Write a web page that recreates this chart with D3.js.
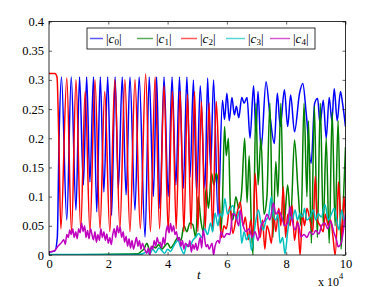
<!DOCTYPE html>
<html>
<head>
<meta charset="utf-8">
<script src="https://d3js.org/d3.v7.min.js"></script>
<style>
  body { margin: 0; background: #fff; }
  text { font-family: "Liberation Serif", "Times New Roman", serif; fill: #000; }
</style>
</head>
<body>
<svg width="382" height="287"></svg>
<script>
// time in units of 1e4
var c0 = [[0,0.005],[0.2,0.007],[0.28,0.03],[0.34,0.2],[0.42,0.305],
  [0.6,0.06],[0.75,0.305],[0.91,0.077],[1.03,0.305],[1.16,0.12],[1.27,0.305],[1.38,0.125],[1.5,0.305],
  [1.61,0.074],[1.73,0.305],[1.85,0.108],[1.98,0.305],[2.11,0.068],[2.23,0.305],[2.34,0.114],[2.47,0.305],
  [2.6,0.103],[2.73,0.305],[2.9,0.077],[3.04,0.305],[3.24,0.031],[3.38,0.305],[3.52,0.1],[3.63,0.305],
  [3.74,0.08],[3.88,0.305],[4.02,0.1],[4.15,0.305],[4.28,0.12],[4.4,0.305],[4.53,0.114],[4.65,0.305],
  [4.76,0.134],[4.87,0.3],[4.98,0.106],[5.1,0.29],[5.26,0.114],[5.35,0.303],[5.45,0.146],[5.55,0.3],[5.7,0.066],
  [5.85,0.265],[5.92,0.232],[6.0,0.277],[6.08,0.23],[6.17,0.27],[6.25,0.24],[6.32,0.255],[6.4,0.235],
  [6.5,0.27],[6.58,0.26],[6.68,0.27],[6.78,0.2],[6.9,0.29],[6.98,0.21],[7.05,0.28],[7.15,0.18],[7.32,0.297],
  [7.45,0.24],[7.6,0.191],[7.7,0.277],[7.8,0.22],[7.94,0.283],[8.05,0.22],[8.15,0.274],[8.28,0.211],
  [8.45,0.277],[8.56,0.294],[8.68,0.24],[8.84,0.157],[8.96,0.26],[9.06,0.268],[9.14,0.225],[9.25,0.265],
  [9.35,0.2],[9.45,0.27],[9.54,0.23],[9.62,0.285],[9.72,0.23],[9.83,0.28],[9.9,0.26],[10,0.22]];

var c1 = [[0,0],[3.0,0.002],[3.1,0.006],[3.2,0.01],[3.3,0.02],[3.4,0.008],[3.5,0.015],[3.6,0.012],
  [3.7,0.018],[3.8,0.01],[3.9,0.015],[4.0,0.02],[4.1,0.012],[4.2,0.018],[4.35,0.03],[4.45,0.025],
  [4.55,0.05],[4.65,0.04],[4.75,0.055],[4.85,0.052],[4.95,0.03],[5.03,0.1],[5.12,0.06],[5.2,0.04],
  [5.3,0.115],[5.38,0.08],[5.48,0.14],[5.56,0.12],[5.64,0.14],[5.72,0.12],[5.8,0.04],[5.85,0.09],
  [5.92,0.22],[5.98,0.17],[6.05,0.2],[6.12,0.08],[6.2,0.06],[6.3,0.1],[6.4,0.08],[6.5,0.11],[6.6,0.2],
  [6.68,0.09],[6.75,0.17],[6.82,0.06],[6.88,0],[6.98,0.26],[7.05,0.12],[7.15,0.2],[7.25,0.07],[7.35,0.1],
  [7.45,0.26],[7.55,0.03],[7.65,0.16],[7.72,0.1],[7.82,0.26],[7.92,0.05],[8.05,0.12],[8.15,0.06],
  [8.28,0.197],[8.4,0.11],[8.5,0.05],[8.6,0.26],[8.7,0.1],[8.75,0.23],[8.85,0.02],[8.95,0.255],[9.05,0.03],
  [9.15,0.26],[9.25,0.05],[9.35,0.2],[9.45,0.02],[9.55,0.245],[9.65,0.05],[9.75,0.23],[9.85,0.01],
  [9.95,0.12],[10,0.185]];

var c2 = [[0,0.311],[0.2,0.311],[0.27,0.305],[0.33,0.2],[0.4,0.045],
  [0.6,0.303],[0.76,0.04],[0.91,0.3],[1.07,0.045],[1.22,0.28],[1.38,0.04],[1.55,0.3],[1.72,0.045],
  [1.88,0.28],[2.05,0.04],[2.22,0.3],[2.39,0.045],[2.56,0.3],[2.73,0.04],[2.9,0.3],[3.08,0.045],
  [3.26,0.31],[3.42,0.04],[3.58,0.305],[3.73,0.045],[3.88,0.29],[4.02,0.04],[4.16,0.28],[4.29,0.045],
  [4.42,0.28],[4.55,0.04],[4.67,0.275],[4.79,0.045],[4.91,0.28],[5.02,0.04],[5.14,0.263],[5.27,0.045],
  [5.4,0.26],[5.52,0.04],[5.64,0.263],[5.7,0.2],[5.76,0.066],[5.82,0.03],[5.9,0.05],[5.98,0.045],
  [6.1,0.083],[6.2,0.037],[6.3,0.06],[6.45,0.091],[6.55,0.05],[6.62,0.065],[6.72,0.026],[6.8,0.06],
  [6.88,0.03],[6.95,0.14],[7.05,0.05],[7.12,0.03],[7.2,0.06],[7.28,0.01],[7.35,0.05],[7.42,0.04],
  [7.5,0.02],[7.58,0.07],[7.65,0.04],[7.75,0.08],[7.82,0.05],[7.9,0.117],[7.98,0.03],[8.05,0.07],
  [8.13,0.05],[8.2,0.085],[8.28,0.025],[8.38,0.06],[8.47,0.0],[8.55,0.07],[8.62,0.05],[8.7,0.08],
  [8.8,0.06],[8.9,0.04],[8.98,0.135],[9.05,0.06],[9.15,0.05],[9.25,0.04],[9.32,0.07],[9.42,0.05],
  [9.5,0.06],[9.58,0.03],[9.65,0.0],[9.72,0.06],[9.76,0.125],[9.82,0.08],[9.88,0.03],[9.95,0.1],[10,0.06]];

var c3 = [[0,0.001],[3.0,0.001],[3.2,0.003],[3.3,0.006],[3.4,0.002],[3.5,0.01],[3.6,0.004],[3.7,0.012],
  [3.8,0.008],[3.9,0.003],[4.0,0.01],[4.1,0.006],[4.2,0.015],[4.35,0.025],[4.45,0.012],[4.55,0.002],
  [4.65,0.018],[4.75,0.015],[4.85,0.025],[4.95,0.031],[5.05,0.037],[5.15,0.03],[5.25,0.045],[5.35,0.035],
  [5.45,0.055],[5.52,0.04],[5.6,0.072],[5.7,0.05],[5.77,0.071],[5.85,0.065],[5.93,0.097],[6.02,0.07],
  [6.1,0.077],[6.2,0.085],[6.33,0.06],[6.42,0.075],[6.5,0.02],[6.58,0.04],[6.66,0.026],[6.75,0.035],
  [6.83,0.008],[6.95,0.05],[7.06,0.077],[7.15,0.055],[7.23,0.043],[7.32,0.06],[7.4,0.065],[7.5,0.1],
  [7.56,0.071],[7.65,0.06],[7.72,0.07],[7.79,0.02],[7.88,0.03],[7.96,0.002],[8.05,0.04],[8.13,0.065],
  [8.2,0.06],[8.3,0.077],[8.38,0.06],[8.46,0.071],[8.55,0.065],[8.62,0.08],[8.69,0.06],[8.8,0.065],
  [8.91,0.077],[9.0,0.06],[9.08,0.071],[9.18,0.065],[9.31,0.086],[9.42,0.06],[9.53,0.071],[9.62,0.08],
  [9.7,0.06],[9.78,0.043],[9.87,0.077],[9.95,0.06],[10,0.066]];

var c4 = [[0,0.005],[0.1,0.006],[0.2,0.008],[0.3,0.015],[0.4,0.02],[0.5,0.026],[0.55,0.018],[0.6,0.035],
  [0.65,0.03],[0.7,0.043],[0.75,0.035],[0.8,0.045],[0.85,0.03],[0.9,0.04],[0.95,0.028],[1.0,0.045],
  [1.05,0.038],[1.1,0.055],[1.15,0.04],[1.2,0.05],[1.25,0.03],[1.3,0.042],[1.35,0.028],[1.4,0.045],
  [1.45,0.035],[1.5,0.026],[1.55,0.04],[1.6,0.022],[1.65,0.035],[1.7,0.025],[1.75,0.045],[1.8,0.03],
  [1.85,0.04],[1.9,0.025],[1.95,0.036],[2.0,0.02],[2.05,0.03],[2.1,0.018],[2.15,0.035],[2.2,0.045],
  [2.25,0.03],[2.3,0.05],[2.35,0.038],[2.4,0.048],[2.45,0.03],[2.5,0.04],[2.55,0.022],[2.6,0.032],
  [2.65,0.015],[2.7,0.028],[2.75,0.012],[2.8,0.025],[2.85,0.01],[2.9,0.02],[2.95,0.03],[3.0,0.015],
  [3.05,0.025],[3.1,0.01],[3.15,0.02],[3.2,0.014],[3.3,0.003],[3.35,0.012],[3.4,0.0],[3.45,0.015],
  [3.5,0.01],[3.55,0.025],[3.6,0.015],[3.65,0.03],[3.7,0.02],[3.75,0.022],[3.8,0.012],[3.85,0.03],
  [3.9,0.018],[3.95,0.04],[4.0,0.05],[4.05,0.038],[4.1,0.054],[4.15,0.04],[4.2,0.05],[4.25,0.035],
  [4.3,0.04],[4.35,0.025],[4.4,0.03],[4.45,0.015],[4.5,0.025],[4.55,0.01],[4.6,0.02],[4.7,0.014],
  [4.75,0.025],[4.8,0.005],[4.85,0.018],[4.9,0.01],[4.95,0.02],[5.0,0.008],[5.1,0.03],[5.15,0.012],
  [5.2,0.043],[5.3,0.014],[5.35,0.018],[5.4,0.01],[5.5,0.02],[5.55,0.0],[5.6,0.015],[5.7,0.025],
  [5.75,0.02],[5.8,0.04],[5.9,0.03],[6.0,0.037],[6.1,0.035],[6.2,0.071],[6.3,0.066],[6.4,0.05],
  [6.45,0.077],[6.55,0.05],[6.65,0.04],[6.75,0.045],[6.85,0.03],[6.95,0.04],[7.05,0.025],[7.15,0.05],
  [7.28,0.06],[7.35,0.07],[7.45,0.06],[7.57,0.089],[7.65,0.07],[7.75,0.076],[7.85,0.065],[7.95,0.05],
  [8.05,0.055],[8.13,0.083],[8.2,0.06],[8.3,0.043],[8.4,0.055],[8.5,0.031],[8.6,0.035],[8.7,0.03],
  [8.8,0.04],[8.9,0.035],[9.0,0.042],[9.1,0.036],[9.2,0.051],[9.3,0.055],[9.4,0.045],[9.5,0.058],
  [9.6,0.04],[9.7,0.025],[9.75,0.014],[9.85,0.02],[9.95,0.05],[10,0.07]];

var seriesData = [c0, c1, c2, c3, c4];
var seriesNames = ["0", "1", "2", "3", "4"];
var colors = ["#0000ff", "#008000", "#ff0000", "#00bfbf", "#bf00bf"];
var xTicks = [0, 2, 4, 6, 8, 10];
var yTicks = [0, 0.05, 0.1, 0.15, 0.2, 0.25, 0.3, 0.35, 0.4];

var svg = d3.select("svg"),
  pLeft = 49, pRight = 345.5, pTop = 21.5, pBottom = 255;

var x = d3.scaleLinear().domain([0, 10]).range([pLeft, pRight]);
var y = d3.scaleLinear().domain([0, 0.4]).range([pBottom, pTop]);

svg.append("clipPath").attr("id", "clip")
  .append("rect").attr("x", pLeft).attr("y", pTop - 2).attr("width", pRight - pLeft).attr("height", pBottom - pTop + 2);

var line = d3.line()
  .x(function(d) { return x(d[0]); })
  .y(function(d) { return y(d[1]); })
  .curve(d3.curveMonotoneX);

svg.append("g").attr("clip-path", "url(#clip)")
  .selectAll("path")
  .data(seriesData)
  .enter().append("path")
  .attr("d", line)
  .attr("fill", "none")
  .attr("stroke", function(d, i) { return colors[i]; })
  .attr("stroke-width", 1.5)
  .attr("stroke-linejoin", "round");

// axes: ticks inside, box all round
var fmt = function(d) { return String(+d.toFixed(2)); };
var axB = d3.axisBottom(x).tickValues(xTicks).tickSize(-3).tickPadding(4).tickFormat(fmt);
var axT = d3.axisTop(x).tickValues(xTicks).tickSize(-3).tickFormat("");
var axL = d3.axisLeft(y).tickValues(yTicks).tickSize(-3).tickPadding(5).tickFormat(fmt);
var axR = d3.axisRight(y).tickValues(yTicks).tickSize(-3).tickFormat("");

function styleAxis(g) {
  g.attr("font-family", null);
  g.select(".domain").remove();
  g.selectAll("line").attr("stroke", "#000").attr("stroke-width", 0.6);
  g.selectAll("text").attr("font-size", 12.5);
}
svg.append("g").attr("transform", "translate(0," + pBottom + ")").call(axB).call(styleAxis);
svg.append("g").attr("transform", "translate(0," + pTop + ")").call(axT).call(styleAxis);
svg.append("g").attr("transform", "translate(" + pLeft + ",0)").call(axL).call(styleAxis);
svg.append("g").attr("transform", "translate(" + pRight + ",0)").call(axR).call(styleAxis);

svg.append("rect")
  .attr("x", pLeft).attr("y", pTop).attr("width", pRight - pLeft).attr("height", pBottom - pTop)
  .attr("fill", "none").attr("stroke", "#000").attr("stroke-width", 0.8);

svg.append("text").attr("x", x(5.05)).attr("y", 279).attr("font-size", 13)
  .attr("font-style", "italic").attr("text-anchor", "middle").text("t");

var mult = svg.append("text").attr("x", 318).attr("y", 285.5).attr("font-size", 12);
mult.append("tspan").text("x 10");
mult.append("tspan").attr("dy", -6.5).attr("font-size", 8.5).text("4");

// legend
var legend = svg.append("g");
legend.append("rect").attr("x", 87).attr("y", 28).attr("width", 228).attr("height", 21)
  .attr("fill", "#fff").attr("stroke", "#000").attr("stroke-width", 0.8);
var legX = [90, 137, 181, 226, 270];
var legW = [13, 16, 16, 19, 20];
seriesNames.forEach(function(n, i) {
  legend.append("line").attr("x1", legX[i]).attr("x2", legX[i] + legW[i])
    .attr("y1", 38.5).attr("y2", 38.5)
    .attr("stroke", colors[i]).attr("stroke-width", 1.5).attr("stroke-opacity", 0.65);
  var t = legend.append("text").attr("x", legX[i] + legW[i] + 3).attr("y", 43).attr("font-size", 13);
  t.append("tspan").text("|");
  t.append("tspan").attr("font-style", "italic").text("c");
  t.append("tspan").attr("font-size", 9).attr("dy", 2).text(n);
  t.append("tspan").attr("dy", -2).text("|");
});
</script>
</body>
</html>
